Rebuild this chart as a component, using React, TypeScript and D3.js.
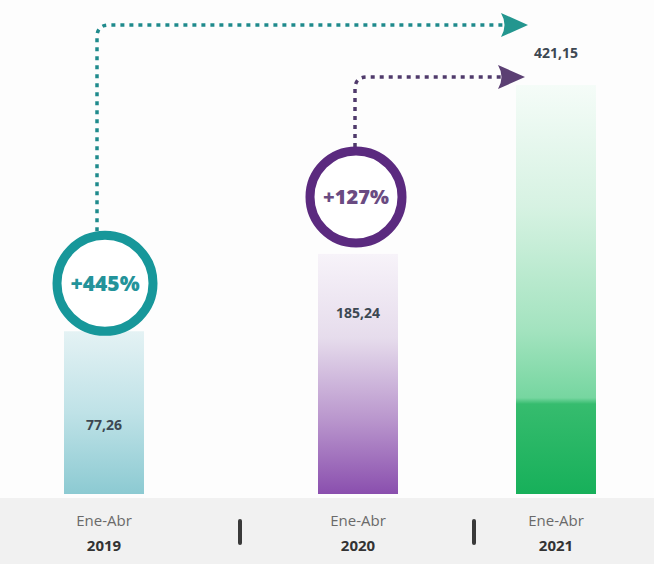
import React from "react";
import * as d3 from "d3";

const categories = ["2019", "2020", "2021"];
const periodLabels = ["Ene-Abr", "Ene-Abr", "Ene-Abr"];
const values = [77.26, 185.24, 421.15];
const valueLabels = ["77,26", "185,24", "421,15"];
const growthLabels = ["+445%", "+127%"];

const W = 654;
const H = 564;
const baseY = 494;
const barW = 80;
const centers = [104, 358, 556];
const separatorsX = [240, 474];

const x = d3.scaleOrdinal<string, number>().domain(categories).range(centers);
const y = d3.scaleLinear().domain([-150, 421.15]).range([baseY, 85]);

const gradStops = [
  [
    [0, "#e4f2f4"],
    [0.5, "#bfe2e7"],
    [1, "#8ccad2"],
  ],
  [
    [0, "#f7f3f9"],
    [0.35, "#e6dcec"],
    [0.7, "#b894cc"],
    [1, "#8a4fae"],
  ],
  [
    [0, "#f5fcf8"],
    [0.3, "#d6f2e2"],
    [0.6, "#a3e3bf"],
    [0.765, "#76d6a0"],
    [0.78, "#36bc6e"],
    [1, "#17b05a"],
  ],
];

const ringColors = ["#17979a", "#5b2a7f"];
const ringText = ["#23939a", "#6a4b82"];
const arrowColors = ["#1f8a8c", "#4f3a6b"];
const arrowHeadColors = ["#23968f", "#5b3f73"];

function arrowHead(tipX: number, cy: number, len: number, half: number) {
  const p = d3.path();
  p.moveTo(tipX, cy);
  p.lineTo(tipX - len, cy - half);
  p.quadraticCurveTo(tipX - len + 7, cy, tipX - len, cy + half);
  p.closePath();
  return p.toString();
}

function connector(x0: number, y0: number, yH: number, x1: number) {
  const r = 12;
  const p = d3.path();
  p.moveTo(x0, y0);
  p.lineTo(x0, yH + r);
  p.quadraticCurveTo(x0, yH, x0 + r, yH);
  p.lineTo(x1, yH);
  return p.toString();
}

export default function App() {
  const tops = values.map((v) => y(v));
  const circles = [
    { cx: x(categories[0]) + 1, cy: tops[0] - 48, r: 48 },
    { cx: x(categories[1]) - 2, cy: tops[1] - 57, r: 46 },
  ];
  const labelY = [tops[0] + 94, tops[1] + 59, tops[2] - 32];
  const arrows = [
    { lx: circles[0].cx - 8, hy: 25, tip: 528 },
    { lx: circles[1].cx - 1, hy: 77, tip: 525 },
  ];
  return (
    <svg
      width={W}
      height={H}
      style={{ position: "absolute", left: 0, top: 0, background: "#ffffff" }}
      fontFamily="'Open Sans', sans-serif"
    >
      <defs>
        {gradStops.map((stops, i) => (
          <linearGradient key={i} id={`g${i}`} x1="0" y1="0" x2="0" y2="1">
            {stops.map(([o, c], j) => (
              <stop key={j} offset={o as number} stopColor={c as string} />
            ))}
          </linearGradient>
        ))}
      </defs>
      <rect x={0} y={0} width={W} height={H} fill="#fdfdfd" />
      <rect x={0} y={498} width={W} height={H - 498} fill="#f1f1f1" />
      {categories.map((c, i) => (
        <rect
          key={c}
          x={x(c) - barW / 2}
          y={tops[i]}
          width={barW}
          height={baseY - tops[i]}
          fill={`url(#g${i})`}
        />
      ))}
      {arrows.map((a, i) => (
        <g key={i}>
          <path
            d={connector(a.lx, circles[i].cy - circles[i].r - 4, a.hy, a.tip - 24)}
            fill="none"
            stroke={arrowColors[i]}
            strokeWidth={3.5}
            strokeDasharray="4 5"
          />
          <path d={arrowHead(a.tip, a.hy, 27, 12)} fill={arrowHeadColors[i]} />
        </g>
      ))}
      {circles.map((c, i) => (
        <g key={i}>
          <circle cx={c.cx} cy={c.cy} r={c.r} fill="#ffffff" stroke={ringColors[i]} strokeWidth={9} />
          <text
            x={c.cx}
            y={c.cy}
            dy="0.35em"
            textAnchor="middle"
            fontSize={i === 0 ? 21 : 20}
            fontWeight={800}
            fill={ringText[i]}
          >
            {growthLabels[i]}
          </text>
        </g>
      ))}
      {categories.map((c, i) => (
        <text
          key={c}
          x={x(c)}
          y={labelY[i]}
          dy="0.35em"
          textAnchor="middle"
          fontSize={14}
          fontWeight={700}
          fill="#3d4852"
        >
          {valueLabels[i]}
        </text>
      ))}
      {categories.map((c, i) => (
        <g key={c}>
          <text x={x(c)} y={526} textAnchor="middle" fontSize={15} fill="#6a6a6a">
            {periodLabels[i]}
          </text>
          <text x={x(c)} y={551} textAnchor="middle" fontSize={15} fontWeight={700} fill="#333333">
            {c}
          </text>
        </g>
      ))}
      {separatorsX.map((sx, i) => (
        <line
          key={i}
          x1={sx}
          x2={sx}
          y1={521}
          y2={543}
          stroke="#3a3a3a"
          strokeWidth={4}
          strokeLinecap="round"
        />
      ))}
    </svg>
  );
}
